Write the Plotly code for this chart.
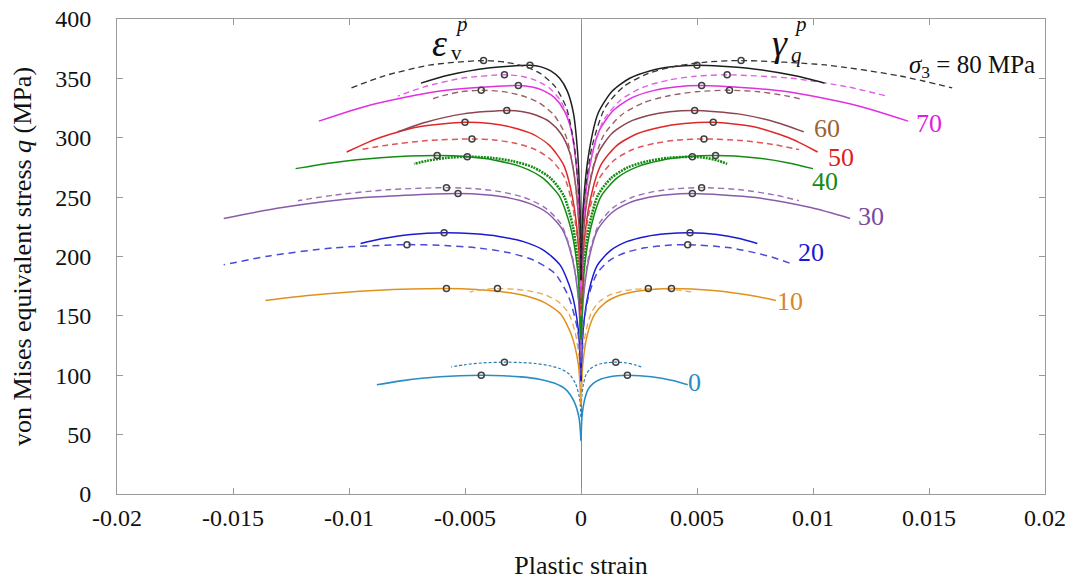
import plotly.graph_objects as go

# ---------------- data ----------------
# q history (MPa), plastic shear strain gamma_q^p (right), plastic volumetric strain eps_v^p (left)
# suffix a = solid curve, b = dashed/dotted curve
q_0a = [45, 64.3, 78, 87.9, 93.4, 96.7, 98.6, 99.6, 100, 98.7, 95.5, 92]
gam_0a = [0, .00004, .00014, .0003, .00054, .00084, .0012, .00156, .002, .00304, .00395, .0046]
eps_0a = [0, -.000086, -.0003, -.00065, -.00116, -.0018, -.00258, -.00335, -.0043, -.0061, -.00768, -.0088]

q_0b = [65, 81.1, 92.6, 100.9, 105.5, 108.2, 109.9, 110.7, 111, 110.4, 108.8, 107]
gam_0b = [0, .00003, .000105, .000225, .000405, .00063, .0009, .00117, .0015, .00194, .00233, .0026]
eps_0b = [0, -.000066, -.00023, -.0005, -.00089, -.00139, -.00198, -.00257, -.0033, -.00422, -.00503, -.0056]

q_10a = [75, 109.3, 133.8, 151.4, 161.2, 167.1, 170.6, 172.3, 173, 171.4, 167.4, 163]
gam_10a = [0, .000078, .00027, .00059, .00105, .00164, .00234, .00304, .0039, .0057, .00728, .0084]
eps_10a = [0, -.000116, -.00041, -.00087, -.00157, -.00244, -.00348, -.00452, -.0058, -.00892, -.01165, -.0136]

q_10b = [80, 112.6, 135.8, 152.5, 161.8, 167.4, 170.7, 172.3, 173, 172.5, 171.3, 170]
gam_10b = [0, .000058, .0002, .00044, .00078, .00122, .00174, .00226, .0029, .00366, .00433, .0048]
eps_10b = [0, -.000072, -.00025, -.00054, -.00097, -.00151, -.00216, -.00281, -.0036, -.00408, -.0045, -.0048]

q_20a = [95, 138.8, 170, 192.5, 205, 212.5, 216.9, 219.1, 220, 218.6, 215, 211]
gam_20a = [0, .000094, .00033, .0007, .00127, .00197, .00282, .00367, .0047, .00586, .00688, .0076]
eps_20a = [0, -.000118, -.00041, -.00089, -.00159, -.00248, -.00354, -.0046, -.0059, -.00734, -.0086, -.0095]

q_20b = [100, 138.5, 166, 185.8, 196.8, 203.4, 207.3, 209.2, 210, 207.3, 200.5, 193]
gam_20b = [0, .000092, .00032, .00069, .00124, .00193, .00276, .00359, .0046, .00644, .00805, .0092]
eps_20b = [0, -.00015, -.00053, -.00113, -.00203, -.00315, -.0045, -.00585, -.0075, -.01066, -.01343, -.0154]

q_30a = [115, 163.3, 197.8, 222.6, 236.4, 244.7, 249.6, 252, 253, 249.6, 241.2, 232]
gam_30a = [0, .000096, .00034, .00072, .0013, .00202, .00288, .00374, .0048, .00752, .0099, .0116]
eps_30a = [0, -.000106, -.00037, -.0008, -.00143, -.00223, -.00318, -.00413, -.0053, -.00934, -.01288, -.0154]

q_30b = [120, 168.3, 202.8, 227.6, 241.4, 249.7, 254.6, 257, 258, 256.2, 251.8, 247]
gam_30b = [0, .0001, .00036, .00078, .0014, .00218, .00312, .00406, .0052, .00688, .00835, .0094]
eps_30b = [0, -.000116, -.00041, -.00087, -.00157, -.00244, -.00348, -.00452, -.0058, -.00836, -.0106, -.0122]

q_40a = [130, 184.3, 223, 250.9, 266.4, 275.7, 281.1, 283.9, 285, 283.2, 278.8, 274]
gam_40a = [0, .000116, .00041, .00087, .00157, .00244, .00348, .00452, .0058, .00748, .00895, .01]
eps_40a = [0, -.000124, -.00043, -.00093, -.00167, -.0026, -.00372, -.00484, -.0062, -.00864, -.01078, -.0123]

q_40b = [135, 187.2, 224.4, 251.2, 266.1, 275.1, 280.3, 283, 284, 283, 280.6, 278]
gam_40b = [0, .000096, .00034, .00072, .0013, .00202, .00288, .00374, .0048, .0054, .00593, .0063]
eps_40b = [0, -.000098, -.00034, -.00074, -.00132, -.00206, -.00294, -.00382, -.0049, -.00582, -.00663, -.0072]

q_50a = [150, 207.1, 247.8, 277.1, 293.4, 303.2, 308.9, 311.9, 313, 309, 299, 288]
gam_50a = [0, .000114, .0004, .00086, .00154, .00239, .00342, .00445, .0057, .0075, .00908, .0102]
eps_50a = [0, -.0001, -.00035, -.00075, -.00135, -.0021, -.003, -.0039, -.005, -.00704, -.00883, -.0101]

q_50b = [150, 202.2, 239.4, 266.2, 281.1, 290.1, 295.3, 298, 299, 297.6, 294, 290]
gam_50b = [0, .000106, .00037, .0008, .00143, .00223, .00318, .00413, .0053, .00694, .00838, .0094]
eps_50b = [0, -.000094, -.00033, -.0007, -.00127, -.00197, -.00282, -.00367, -.0047, -.00662, -.0083, -.0095]

q_60a = [160, 217.1, 257.8, 287.1, 303.4, 313.2, 318.9, 321.9, 323, 320.1, 312.9, 305]
gam_60a = [0, .000098, .00034, .00074, .00132, .00206, .00294, .00382, .0049, .00678, .00843, .0096]
eps_60a = [0, -.000064, -.00022, -.00048, -.00086, -.00134, -.00192, -.0025, -.0032, -.00508, -.00673, -.0079]

q_60b = [165, 226.3, 270, 301.5, 319, 329.5, 335.6, 338.8, 340, 338.7, 335.5, 332]
gam_60b = [0, .000128, .00045, .00096, .00173, .00269, .00384, .00499, .0064, .00768, .0088, .0096]
eps_60b = [0, -.000086, -.0003, -.00065, -.00116, -.00181, -.00258, -.00335, -.0043, -.00518, -.00595, -.0065]

q_70a = [170, 230.9, 274.4, 305.7, 323.1, 333.6, 339.7, 342.8, 344, 339.2, 327.2, 314]
gam_70a = [0, .0001, .00036, .00078, .0014, .00218, .00312, .00406, .0052, .00876, .01188, .0141]
eps_70a = [0, -.000054, -.00019, -.00041, -.00073, -.00113, -.00162, -.00211, -.0027, -.00614, -.00915, -.0113]

q_70b = [175, 237.3, 281.8, 313.8, 331.6, 342.3, 348.6, 351.8, 353, 350.1, 342.9, 335]
gam_70b = [0, .000126, .00044, .00095, .0017, .00265, .00378, .00491, .0063, .00906, .01148, .0132]
eps_70b = [0, -.000066, -.00023, -.0005, -.00089, -.00139, -.00198, -.00257, -.0033, -.00514, -.00675, -.0079]

q_80a = [180, 243.4, 288.6, 321.2, 339.3, 350.1, 356.5, 359.7, 361, 358.6, 352.6, 346]
gam_80a = [0, .0001, .00035, .00075, .00135, .0021, .003, .0039, .005, .0072, .00913, .0105]
eps_80a = [0, -.000044, -.00015, -.00033, -.00059, -.00092, -.00132, -.00172, -.0022, -.00408, -.00573, -.0069]

q_80b = [185, 248, 293, 325.4, 343.4, 354.2, 360.5, 363.7, 365, 361.3, 352.1, 342]
gam_80b = [0, .000138, .00048, .00104, .00186, .0029, .00414, .00538, .0069, .01054, .01373, .016]
eps_80b = [0, -.000084, -.00029, -.00063, -.00113, -.00176, -.00252, -.00328, -.0042, -.00648, -.00848, -.0099]

sigma3_labels = ["0", "10", "20", "30", "40", "50", "60", "70"]
x_ticks = [-0.02, -0.015, -0.01, -0.005, 0, 0.005, 0.01, 0.015, 0.02]
x_tick_text = ["-0.02", "-0.015", "-0.01", "-0.005", "0", "0.005", "0.01", "0.015", "0.02"]
y_ticks = [0, 50, 100, 150, 200, 250, 300, 350, 400]

# ---------------- styles ----------------
SERIF = "Liberation Serif"
tests = [
    (q_0a, gam_0a, eps_0a, "#2a8cc4", "solid", 1.6),
    (q_0b, gam_0b, eps_0b, "#2a7fb0", "3px,2px", 1.2),
    (q_10a, gam_10a, eps_10a, "#e0911c", "solid", 1.5),
    (q_10b, gam_10b, eps_10b, "#e8a850", "6px,4px", 1.3),
    (q_20a, gam_20a, eps_20a, "#1a1ad0", "solid", 1.5),
    (q_20b, gam_20b, eps_20b, "#4a4ad6", "7px,5px", 1.5),
    (q_30a, gam_30a, eps_30a, "#8a5aaa", "solid", 1.5),
    (q_30b, gam_30b, eps_30b, "#9a72b4", "6px,4px", 1.4),
    (q_40a, gam_40a, eps_40a, "#138c13", "solid", 1.5),
    (q_40b, gam_40b, eps_40b, "#138c13", "2px,1px", 2.6),
    (q_50a, gam_50a, eps_50a, "#e02828", "solid", 1.5),
    (q_50b, gam_50b, eps_50b, "#e05555", "6px,4px", 1.5),
    (q_60a, gam_60a, eps_60a, "#8c4652", "solid", 1.5),
    (q_60b, gam_60b, eps_60b, "#9a6068", "6px,4px", 1.4),
    (q_70a, gam_70a, eps_70a, "#e030e0", "solid", 1.5),
    (q_70b, gam_70b, eps_70b, "#e060e8", "6px,4px", 1.4),
    (q_80a, gam_80a, eps_80a, "#1e1e1e", "solid", 1.5),
    (q_80b, gam_80b, eps_80b, "#333333", "6px,4px", 1.3),
]

fig = go.Figure()
for q, gam, eps, color, dash, w in tests:
    for xs in (gam, eps):
        fig.add_trace(go.Scatter(x=xs, y=q, mode="lines",
                                 line=dict(color=color, dash=dash, width=w, shape="spline", smoothing=0.7),
                                 hoverinfo="skip", showlegend=False))
# peak markers
for q, gam, eps, color, dash, w in tests:
    k = q.index(max(q))
    fig.add_trace(go.Scatter(x=[gam[k], eps[k]], y=[q[k], q[k]], mode="markers",
                             marker=dict(symbol="circle-open", size=6, color="#404040",
                                         line=dict(width=1.5, color="#404040")),
                             hoverinfo="skip", showlegend=False))

# sigma_3 labels at curve ends
label_pos = [(0.0049, 94), (0.0090, 162), (0.0099, 203), (0.0125, 234),
             (0.0105, 263), (0.0112, 283), (0.0106, 308), (0.0150, 312)]
label_colors = ["#2a8cc4", "#d8862a", "#1a1ad0", "#7a4aa0", "#138c13", "#e02020", "#9a6432", "#e020e0"]
for txt, (lx, ly), c in zip(sigma3_labels, label_pos, label_colors):
    fig.add_annotation(x=lx, y=ly, text=txt, showarrow=False, xanchor="center", yanchor="middle",
                       font=dict(family=SERIF, size=26, color=c))

fig.add_annotation(x=0.01685, y=360, text="<i>σ</i><sub>3</sub> = 80 MPa", showarrow=False,
                   font=dict(family=SERIF, size=25, color="#111"))
# epsilon_v^p
fig.add_annotation(x=-0.0061, y=380, text="<i>ε</i>", showarrow=False,
                   font=dict(family=SERIF, size=38, color="#111"))
fig.add_annotation(x=-0.00513, y=396, text="<i>p</i>", showarrow=False,
                   font=dict(family=SERIF, size=21, color="#111"))
fig.add_annotation(x=-0.00535, y=371, text="v", showarrow=False,
                   font=dict(family=SERIF, size=21, color="#111"))
# gamma_q^p
fig.add_annotation(x=0.00858, y=380, text="<i>γ</i>", showarrow=False,
                   font=dict(family=SERIF, size=38, color="#111"))
fig.add_annotation(x=0.00944, y=396, text="<i>p</i>", showarrow=False,
                   font=dict(family=SERIF, size=21, color="#111"))
fig.add_annotation(x=0.0093, y=370, text="<i>q</i>", showarrow=False,
                   font=dict(family=SERIF, size=21, color="#111"))

axis_common = dict(showline=True, linecolor="#9a9a9a", linewidth=1, mirror="ticks",
                   ticks="inside", ticklen=6, tickcolor="#9a9a9a", showgrid=False,
                   automargin=False, ticklabeloverflow="allow",
                   tickfont=dict(family=SERIF, size=24, color="#111"))
fig.update_xaxes(range=[-0.02, 0.02], tickvals=x_ticks, ticktext=x_tick_text,
                 zeroline=True, zerolinecolor="#8a8a8a", zerolinewidth=1, ticklabelstandoff=2,
                 title=dict(text="Plastic strain", font=dict(family=SERIF, size=26, color="#111"), standoff=26),
                 **axis_common)
fig.update_yaxes(range=[0, 400], tickvals=y_ticks, zeroline=False, ticklabelstandoff=20,
                 title=dict(text="von Mises equivalent stress <i>q</i> (MPa)",
                            font=dict(family=SERIF, size=26, color="#111"), standoff=18),
                 **axis_common)
# the page body adds an 8 px offset, so margins are shifted to keep the plot area in place
fig.update_layout(width=1073, height=585, margin=dict(l=109, r=36, t=11, b=99),
                  plot_bgcolor="white", paper_bgcolor="white")
fig.write_html("out.html")
